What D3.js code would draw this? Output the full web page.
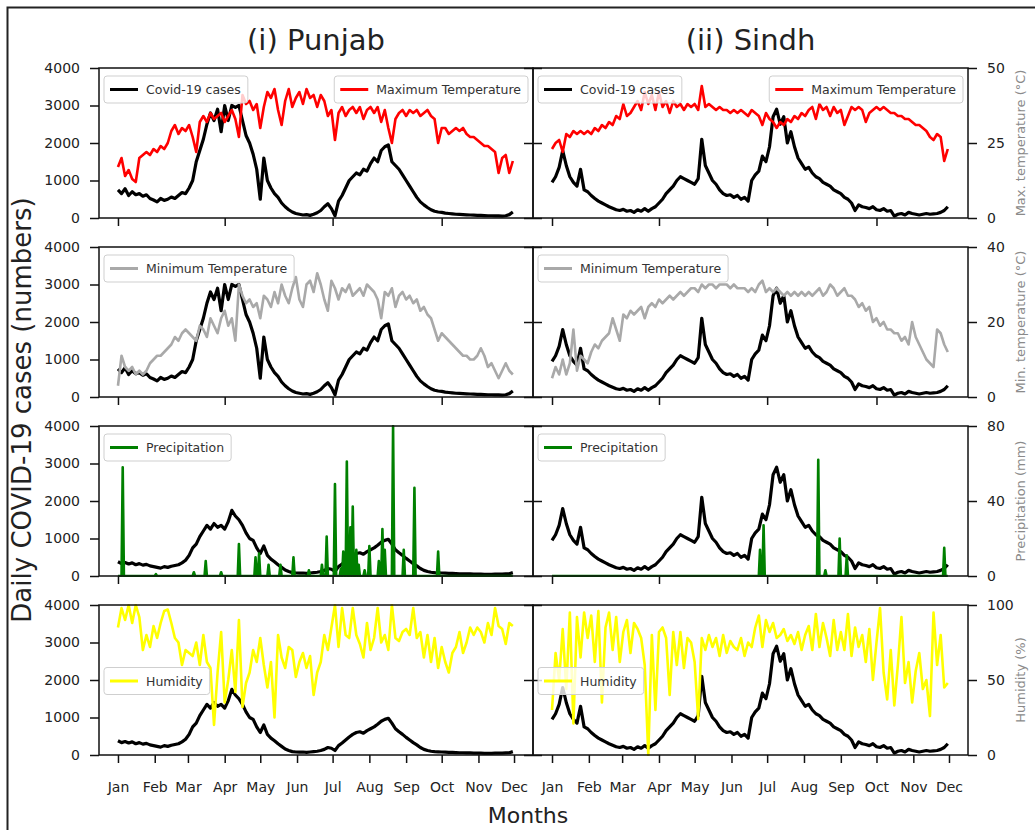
<!DOCTYPE html>
<html>
<head>
<meta charset="utf-8">
<script src="https://cdn.jsdelivr.net/npm/d3@7"></script>
<style>
  body { margin: 0; background: #fff; }
  svg text { font-family: "DejaVu Sans", sans-serif; }
</style>
</head>
<body>
<svg id="chart" width="1035" height="830"></svg>
<script>
// one value every 3 days, starting 1 Jan, last value on 30 Nov
const step = 3;

// daily covid cases, Punjab (rows 1-2)
const punjabCasesA = [
  750, 650, 780, 600, 700, 620, 650, 580, 620, 520,
  480, 430, 520, 470, 500, 560, 520, 600, 680, 650,
  800, 1000, 1500, 1800, 2100, 2500, 2800, 2600, 2900, 2300,
  3000, 2600, 3000, 2950, 3000, 2600, 2200, 2000, 1700, 1300,
  500, 1600, 1000, 800, 650, 550, 400, 300, 220, 160,
  120, 100, 80, 90, 70, 100, 140, 200, 300, 380,
  250, 60, 450, 600, 800, 1000, 1100, 1200, 1150, 1300,
  1250, 1450, 1600, 1500, 1800, 1900, 1950, 1500, 1400, 1300,
  1150, 1000, 850, 700, 550, 430, 350, 280, 220, 180,
  160, 150, 130, 120, 110, 100, 95, 90, 85, 80,
  75, 70, 70, 65, 60, 60, 55, 55, 50, 60,
  90, 160
];
// daily covid cases, Punjab (rows 3-4)
const punjabCasesB = [
  380, 330, 360, 320, 350, 300, 330, 290, 310, 270,
  250, 230, 210, 250, 230, 260, 280, 300, 350, 420,
  550, 750, 850, 1050, 1200, 1350, 1250, 1400, 1300, 1350,
  1250, 1450, 1750, 1600, 1500, 1350, 1150, 1000, 950, 750,
  600, 800, 550, 450, 380, 300, 230, 160, 120, 90,
  80, 75, 80, 70, 80, 90, 100, 120, 150, 200,
  180, 120, 250, 320, 400, 480, 550, 600, 620, 580,
  650, 700, 750, 820, 900, 950, 980, 850, 700, 620,
  550, 470, 400, 330, 270, 200, 150, 120, 100, 90,
  85, 80, 75, 70, 70, 65, 60, 60, 55, 55,
  50, 50, 50, 45, 45, 45, 50, 50, 50, 55,
  60, 90
];
// daily covid cases, Sindh
const sindhCases = [
  950, 1100, 1350, 1800, 1400, 1100, 950, 850, 1300, 750,
  700, 600, 520, 450, 400, 350, 300, 260, 220, 200,
  230, 180, 200, 150, 220, 180, 250, 180, 250, 300,
  400, 500, 650, 750, 850, 1000, 1100, 1050, 1000, 950,
  900, 1050, 2100, 1400, 1200, 1000, 900, 750, 650, 600,
  620, 550, 600, 500, 550, 450, 1000, 1150, 1250, 1650,
  1500, 1900, 2700, 2900, 2500, 2700, 2000, 2300, 1900, 1600,
  1450, 1300, 1350, 1200, 1100, 1050, 950, 900, 850, 750,
  700, 650, 550, 500, 400, 200, 350, 300, 280, 250,
  300, 220, 200, 250, 180, 200, 50, 100, 120, 80,
  150, 120, 100, 80, 100, 120, 100, 110, 120, 150,
  200, 300
];

// maximum temperature (°C)
const punjabMaxT = [
  17, 20, 14, 16, 13, 12, 20, 21, 22, 21,
  23, 22, 24, 23, 25, 29, 31, 28, 30, 29,
  31, 27, 22, 32, 34, 32, 35, 33, 34, 35,
  32, 34, 36, 33, 27, 41, 38, 39, 36, 38,
  30, 37, 42, 40, 43, 36, 31, 39, 43, 37,
  40, 42, 38, 43, 40, 41, 37, 41, 39, 34,
  36, 26, 35, 37, 34, 36, 37, 35, 37, 33,
  36, 37, 35, 37, 32, 36, 30, 25, 33, 35,
  36, 34, 36, 35, 36, 34, 35, 36, 34, 33,
  25, 30, 30, 28, 29, 30, 29, 30, 28, 27,
  27, 26, 25, 24, 24, 23, 22, 15, 20, 21,
  15, 19
];
const sindhMaxT = [
  23, 25, 26, 22, 28, 27, 29, 28, 29, 28,
  29, 28, 30, 29, 31, 30, 32, 31, 34, 33,
  38, 34, 35, 37, 39, 36, 42, 38, 41, 36,
  42, 37, 39, 35, 39, 37, 38, 36, 38, 37,
  38, 36, 44, 37, 38, 37, 36, 37, 36, 36,
  35, 36, 35, 36, 35, 34, 36, 35, 34, 31,
  35, 33, 32, 30, 32, 31, 33, 32, 34, 33,
  35, 34, 36, 37, 33, 38, 36, 37, 34, 37,
  35, 36, 31, 34, 37, 36, 37, 36, 32, 35,
  36, 37, 36, 37, 36, 35, 35, 34, 34, 33,
  33, 32, 31, 31, 30, 29, 27, 26, 28, 27,
  19, 23
];

// minimum temperature (°C)
const punjabMinT = [
  3, 11, 8, 7, 8, 6, 7, 6, 7, 9,
  10, 11, 11, 12, 13, 14, 16, 15, 17, 18,
  17, 16, 15, 19, 18, 16, 21, 19, 17, 21,
  23, 19, 21, 15, 30, 27, 25, 26, 24, 25,
  21, 27, 26, 24, 28, 25, 30, 27, 25, 29,
  32, 26, 24, 30, 31, 28, 33, 30, 26, 23,
  31, 29, 26, 29, 28, 30, 27, 28, 29, 27,
  30, 29, 28, 26, 21, 28, 27, 29, 24, 27,
  28, 26, 27, 25, 26, 23, 24, 22, 21, 18,
  15, 17, 16, 15, 14, 13, 12, 11, 11, 10,
  10, 11, 13, 11, 8, 9, 7, 5, 7, 9,
  7, 6
];
const sindhMinT = [
  5, 8, 6, 10, 6, 9, 18, 7, 11, 10,
  9, 12, 14, 13, 15, 16, 17, 21, 18, 15,
  22, 21, 23, 22, 23, 24, 21, 24, 25, 24,
  26, 25, 26, 27, 26, 27, 28, 27, 28, 29,
  29, 28, 30, 29, 30, 30, 29, 30, 30, 30,
  29, 30, 29, 29, 29, 28, 29, 28, 30, 31,
  28, 29, 28, 29, 28, 27, 28, 27, 28, 27,
  28, 27, 28, 27, 28, 29, 27, 28, 30, 29,
  27, 28, 29, 27, 27, 26, 24, 25, 23, 24,
  20, 21, 19, 20, 18, 18, 17, 17, 15, 16,
  14, 20, 16, 14, 12, 10, 9, 8, 18, 17,
  14, 12
];

// precipitation (mm): only the rainy days, day of year counted from 1 Jan = 0
const punjabRainDays = [4, 32, 64, 74, 87, 102, 116, 119, 127, 137, 148, 161, 172, 176, 183,
  188, 190, 193, 196, 198, 201, 203, 208, 212, 220, 223, 225, 232, 241, 250, 270];
const punjabRainMm = [58, 1, 2, 8, 2, 17, 10, 12, 6, 6, 10, 3, 6, 21, 49,
  4, 13, 61, 26, 37, 14, 6, 3, 16, 8, 25, 14, 80, 14, 47, 13];
const sindhRainDays = [175, 178, 224, 230, 242, 248, 330];
const sindhRainMm = [14, 27, 62, 3, 20, 11, 15];

// humidity (%)
const punjabHum = [
  85, 98, 90, 100, 88, 100, 92, 70, 80, 72,
  86, 78, 88, 96, 97, 88, 78, 75, 60, 70,
  68, 66, 75, 60, 80, 62, 58, 20, 55, 82,
  35, 50, 70, 42, 90, 32, 48, 55, 70, 62,
  78, 60, 45, 62, 25, 80, 65, 58, 72, 70,
  52, 62, 68, 58, 66, 40, 55, 62, 80, 70,
  85, 100, 72, 98, 80, 78, 98, 80, 74, 65,
  88, 70, 78, 98, 75, 80, 70, 100, 78, 76,
  82, 84, 80, 98, 78, 82, 65, 80, 62, 78,
  58, 72, 62, 55, 68, 72, 82, 68, 75, 85,
  80, 85, 82, 75, 88, 80, 98, 86, 84, 74,
  88, 86
];
const sindhHum = [
  30, 68, 50, 84, 44, 95, 21, 92, 65, 95,
  78, 93, 62, 96, 35, 85, 95, 70, 92, 62,
  82, 90, 68, 88, 84, 78, 60, 0, 80, 30,
  82, 85, 78, 40, 82, 60, 82, 58, 78, 75,
  62, 24, 78, 70, 80, 72, 78, 66, 80, 68,
  76, 72, 70, 78, 66, 75, 72, 85, 93, 72,
  90, 82, 88, 78, 80, 84, 76, 80, 74, 82,
  70, 80, 86, 70, 94, 72, 88, 78, 66, 90,
  70, 82, 70, 94, 66, 85, 72, 80, 62, 84,
  50, 75, 98, 55, 37, 70, 33, 60, 92, 48,
  62, 35, 56, 68, 44, 50, 26, 95, 60, 80,
  45, 48
];

const caseTicks = [0, 1000, 2000, 3000, 4000];
const titles = ["(i) Punjab", "(ii) Sindh"];

const svg = d3.select("#chart");
const cols = [{ x0: 99, x1: 533 }, { x0: 533, x1: 968 }];
const rowTop = [68, 247, 426, 605], rowH = 150;

const start = new Date(Date.UTC(2021, 0, 1));
const xDomain = [d3.utcDay.offset(start, -16), d3.utcDay.offset(start, 350)];
const dates = d3.range(punjabCasesA.length).map(i => d3.utcDay.offset(start, i * step));

// rain events -> path points with dry days either side of each spike
function rainPoints(days, mm) {
  const pts = [{ day: 0, v: 0 }];
  days.forEach((d, i) => {
    pts.push({ day: d - 1, v: 0 }, { day: d, v: mm[i] }, { day: d + 1, v: 0 });
  });
  pts.push({ day: 333, v: 0 });
  return pts.map(p => ({ date: d3.utcDay.offset(start, p.day), v: p.v }));
}
const toPts = arr => arr.map((v, i) => ({ date: dates[i], v }));

const rows = [
  { cases: [punjabCasesA, sindhCases], sec: [toPts(punjabMaxT), toPts(sindhMaxT)], color: "#ff0000",
    max: 50, ticks: [0, 25, 50], name: "Maximum Temperature", axisLabel: "Max. temperature (°C)" },
  { cases: [punjabCasesA, sindhCases], sec: [toPts(punjabMinT), toPts(sindhMinT)], color: "#a9a9a9",
    max: 40, ticks: [0, 20, 40], name: "Minimum Temperature", axisLabel: "Min. temperature (°C)" },
  { cases: [punjabCasesB, sindhCases], sec: [rainPoints(punjabRainDays, punjabRainMm), rainPoints(sindhRainDays, sindhRainMm)],
    color: "#008000", max: 80, ticks: [0, 40, 80], name: "Precipitation", axisLabel: "Precipitation (mm)" },
  { cases: [punjabCasesB, sindhCases], sec: [toPts(punjabHum), toPts(sindhHum)], color: "#ffff00",
    max: 100, ticks: [0, 50, 100], name: "Humidity", axisLabel: "Humidity (%)" }
];

// outer figure border (top and left only visible)
svg.append("path")
  .attr("d", "M7.5,830V7.5H1035")
  .attr("fill", "none")
  .attr("stroke", "#222")
  .attr("stroke-width", 2);

// legend box, anchored by left or right edge, vertically by centre
function legend(g, xEdge, yc, label, color, alignRight) {
  const lg = g.append("g");
  const rect = lg.append("rect");
  const txt = lg.append("text")
    .attr("font-size", "12.5px")
    .attr("fill", "#333")
    .text(label);
  const w = 42 + txt.node().getComputedTextLength() + 7;
  const x0 = alignRight ? xEdge - w : xEdge;
  rect.attr("x", x0).attr("y", yc - 13.5).attr("width", w).attr("height", 27)
    .attr("rx", 3).attr("fill", "#fff").attr("fill-opacity", 0.8)
    .attr("stroke", "#cfcfcf").attr("stroke-width", 1);
  lg.append("line")
    .attr("x1", x0 + 6).attr("x2", x0 + 34).attr("y1", yc).attr("y2", yc)
    .attr("stroke", color).attr("stroke-width", 3);
  txt.attr("x", x0 + 42).attr("y", yc + 4.5);
}

rows.forEach((row, r) => {
  const top = rowTop[r], bottom = top + rowH;
  cols.forEach((col, c) => {
    const g = svg.append("g");
    const x = d3.scaleUtc().domain(xDomain).range([col.x0, col.x1]);
    const y = d3.scaleLinear().domain([0, 4000]).range([bottom, top]);
    const y2 = d3.scaleLinear().domain([0, row.max]).range([bottom, top]);

    const clipId = `clip-${r}-${c}`;
    g.append("clipPath").attr("id", clipId)
      .append("rect").attr("x", col.x0).attr("y", top - 1)
      .attr("width", col.x1 - col.x0).attr("height", rowH + 2);

    const lines = g.append("g").attr("clip-path", `url(#${clipId})`);
    lines.append("path")
      .datum(row.cases[c])
      .attr("fill", "none")
      .attr("stroke", "#000")
      .attr("stroke-width", 3.2)
      .attr("stroke-linejoin", "round")
      .attr("d", d3.line().x((d, i) => x(dates[i])).y(d => y(d)));
    lines.append("path")
      .datum(row.sec[c])
      .attr("fill", "none")
      .attr("stroke", row.color)
      .attr("stroke-width", 2.6)
      .attr("stroke-linejoin", "round")
      .attr("d", d3.line().x(d => x(d.date)).y(d => y2(d.v)));

    // frame
    g.append("rect")
      .attr("x", col.x0).attr("y", top)
      .attr("width", col.x1 - col.x0).attr("height", rowH)
      .attr("fill", "none").attr("stroke", "#111").attr("stroke-width", 1.5);

    // left axis
    if (c === 0) {
      g.append("g").attr("transform", `translate(${col.x0},0)`)
        .call(d3.axisLeft(y).tickValues(caseTicks).tickSize(9).tickPadding(10).tickFormat(d3.format("d")));
      g.append("g").attr("transform", `translate(${col.x1},0)`)
        .call(d3.axisRight(y2).tickValues(row.ticks).tickSize(9).tickFormat(""));
    } else {
      g.append("g").attr("transform", `translate(${col.x0},0)`)
        .call(d3.axisLeft(y).tickValues([0, 2000, 4000]).tickSize(9).tickFormat(""));
      g.append("g").attr("transform", `translate(${col.x1},0)`)
        .call(d3.axisRight(y2).tickValues(row.ticks).tickSize(9).tickPadding(10).tickFormat(d3.format("d")));
    }

    // bottom axis
    const last = r === rows.length - 1;
    g.append("g").attr("transform", `translate(0,${bottom})`)
      .call(d3.axisBottom(x)
        .ticks(d3.utcMonth.every(last ? 1 : 3))
        .tickSize(8)
        .tickPadding(19)
        .tickFormat(last ? d3.utcFormat("%b") : ""));

    g.selectAll(".domain").remove();
    g.selectAll(".tick line").attr("stroke", "#111").attr("stroke-width", 1.5);
    g.selectAll(".tick text").attr("font-size", "14px").attr("fill", "#222")
      .attr("font-family", "DejaVu Sans, sans-serif");

    // legends
    const lx = col.x0 + 5, rx = col.x1 - 5;
    if (r === 0) {
      legend(g, lx, top + 21.5, "Covid-19 cases", "#000", false);
      legend(g, rx, top + 21.5, row.name, row.color, true);
    } else if (r === 3) {
      legend(g, lx, top + rowH / 2 + 1, row.name, row.color, false);
    } else {
      legend(g, lx, top + 21.5, row.name, row.color, false);
    }

    // right axis label
    if (c === 1) {
      svg.append("text")
        .attr("transform", `translate(1025,${top + rowH / 2}) rotate(-90)`)
        .attr("text-anchor", "middle")
        .attr("font-size", "13px")
        .attr("fill", "#8a8a8a")
        .text(row.axisLabel);
    }
  });
});

// panel titles
cols.forEach((col, c) => {
  svg.append("text")
    .attr("x", (col.x0 + col.x1) / 2)
    .attr("y", 50)
    .attr("text-anchor", "middle")
    .attr("font-size", "29px")
    .attr("fill", "#222")
    .text(titles[c]);
});

svg.append("text")
  .attr("x", 528).attr("y", 823)
  .attr("text-anchor", "middle")
  .attr("font-size", "22px")
  .attr("fill", "#222")
  .text("Months");

svg.append("text")
  .attr("transform", "translate(31,410) rotate(-90)")
  .attr("text-anchor", "middle")
  .attr("font-size", "26px")
  .attr("fill", "#222")
  .text("Daily COVID-19 cases (numbers)");
</script>
</body>
</html>
